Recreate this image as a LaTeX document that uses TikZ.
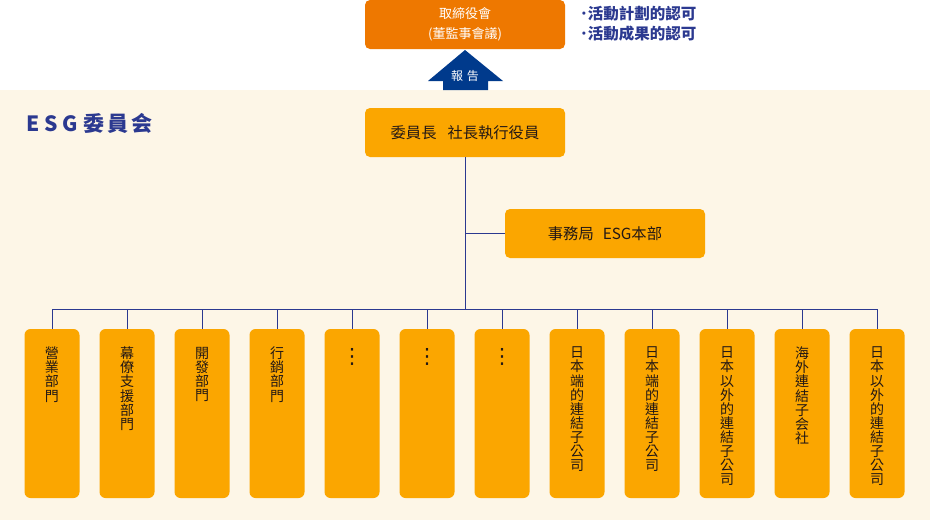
\documentclass[tikz,border=0pt]{standalone}
\usepackage{fontspec}
\setmainfont{Noto Sans CJK TC}
\newfontfamily\dejavu{DejaVu Sans}
\definecolor{cream}{HTML}{FDF6E7}
\definecolor{topor}{HTML}{EE7800}
\definecolor{boxor}{HTML}{FBA600}
\definecolor{navy}{HTML}{2B3990}
\definecolor{arrowblue}{HTML}{003A8C}
\definecolor{ink}{HTML}{231815}
\begin{document}
\begin{tikzpicture}[x=1pt,y=-1pt,
  orgbox/.style={fill=boxor,rounded corners=5pt,minimum width=200pt,minimum height=49pt,inner sep=0pt,
     font=\fontsize{15.3}{17}\selectfont,text=ink},
  deptbox/.style={fill=boxor,rounded corners=6pt,minimum width=55pt,minimum height=169pt,inner sep=0pt},
  depttext/.style={anchor=north,inner sep=0pt,align=center,text=ink,font=\fontsize{14}{14.1}\selectfont},
  dotstext/.style={anchor=north,inner sep=0pt,text=ink,font=\dejavu\fontsize{21}{21}\selectfont},
  conn/.style={draw=navy,line width=0.9pt}]
\useasboundingbox (0,0) rectangle (930,520);
\fill[white] (0,0) rectangle (930,520);
\fill[cream] (0,90) rectangle (930,520);
% top board
\node[fill=topor,rounded corners=5pt,minimum width=200pt,minimum height=49pt,inner sep=0pt,
  text=white,align=center,font=\fontsize{13}{20}\selectfont] (board) at (465,24.5) {取締役會\\(董監事會議)};
\node[anchor=west,inner sep=0pt,align=left,text=navy,font=\bfseries\fontsize{15.5}{20}\selectfont] (tasks) at (580,23.5)
  {･活動計劃的認可\\･活動成果的認可};
% report arrow
\fill[arrowblue] (465,50) -- (503,81) -- (488,81) -- (488,90) -- (443,90) -- (443,81) -- (428,81) -- cycle;
\node[text=white,inner sep=0pt,font=\fontsize{12}{14}\selectfont] (report) at (465,76) {報\hspace{4pt}告};
% title
\node[anchor=west,inner sep=0pt,text=navy,font=\bfseries\fontsize{21}{24}\selectfont] (title) at (26,123)
  {E\hspace{5pt}S\hspace{5pt}G\hspace{5pt}委\hspace{3pt}員\hspace{3pt}会};
% committee
\node[orgbox] (comm) at (465,132.5) {委員長\hspace{11pt}社長執行役員};
\node[orgbox] (sec) at (605,233.5) {事務局\hspace{9pt}ESG本部};
\coordinate (bus) at (465,309);
\draw[conn] (comm.south) -- (bus);
\draw[conn] (sec.west) -- (sec.west -| comm.south);
% departments
\foreach \i in {1,...,12}{
  \node[deptbox] (d\i) at ({52+75*(\i-1)},413.5) {};
}
\draw[conn] (d1.north |- bus) -- (d12.north |- bus);
\foreach \i in {1,...,12}{
  \draw[conn] (d\i.north) -- (d\i.north |- bus);
}
\node[depttext] (t1) at ([yshift=-18pt]d1.north) {營\\業\\部\\門};
\node[depttext] (t2) at ([yshift=-18pt]d2.north) {幕\\僚\\支\\援\\部\\門};
\node[depttext] (t3) at ([yshift=-18pt]d3.north) {開\\發\\部\\門};
\node[depttext] (t4) at ([yshift=-18pt]d4.north) {行\\銷\\部\\門};
\node[dotstext] (t5) at ([yshift=-19pt]d5.north) {⋮};
\node[dotstext] (t6) at ([yshift=-19pt]d6.north) {⋮};
\node[dotstext] (t7) at ([yshift=-19pt]d7.north) {⋮};
\node[depttext] (t8) at ([yshift=-18pt]d8.north) {日\\本\\端\\的\\連\\結\\子\\公\\司};
\node[depttext] (t9) at ([yshift=-18pt]d9.north) {日\\本\\端\\的\\連\\結\\子\\公\\司};
\node[depttext] (t10) at ([yshift=-18pt]d10.north) {日\\本\\以\\外\\的\\連\\結\\子\\公\\司};
\node[depttext] (t11) at ([yshift=-18pt]d11.north) {海\\外\\連\\結\\子\\会\\社};
\node[depttext] (t12) at ([yshift=-18pt]d12.north) {日\\本\\以\\外\\的\\連\\結\\子\\公\\司};
\end{tikzpicture}
\end{document}
